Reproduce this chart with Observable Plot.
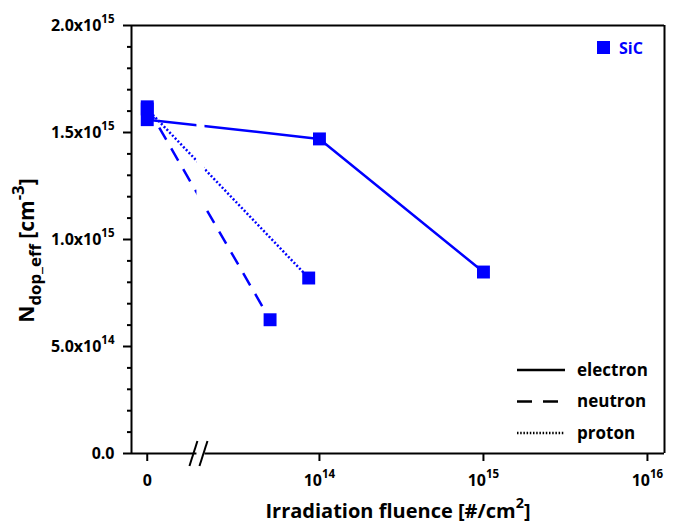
<!DOCTYPE html>
<html><head><meta charset="utf-8">
<script src="https://cdn.jsdelivr.net/npm/d3@7"></script>
<script src="https://cdn.jsdelivr.net/npm/@observablehq/plot@0.6"></script>
<style>
body{margin:0;background:#fff;}
#chart svg{font-family:"Open Sans",sans-serif;font-weight:700;}
</style></head><body><div id="chart"></div>
<script>
// ---- data ----
const electronFluence = [0, 1e14, 1e15];
const electronNdop = [1.56e15, 1.47e15, 0.848e15];
const neutronFluence = [0, 5e13];
const neutronNdop = [1.62e15, 0.625e15];
const protonFluence = [0, 8.6e13];
const protonNdop = [1.61e15, 0.82e15];
const seriesNames = ["electron", "neutron", "proton"];
const materialName = "SiC";
const yMajorTicks = [0, 5e14, 1e15, 1.5e15, 2e15];
const yTickLabels = ["0.0", "5.0x10^{14}", "1.0x10^{15}", "1.5x10^{15}", "2.0x10^{15}"];
const xTickExponents = [14, 15, 16];
const xLabel = "Irradiation fluence [#/cm^{2}]";
const yLabel = "N_{dop_eff} [cm^{-3}]";

// ---- broken log axis layout ----
const ZERO_POS = 12.95, X_MIN = 12.854, X_MAX = 16.104;
const BREAK_L = 13.253, BREAK_R = 13.302;
const pos = f => f === 0 ? ZERO_POS : Math.log10(f);
const BLUE = "#0000ff";
const TICK_FS = 16;

const mk = (name, fl, nd) => fl.map((f, i) => ({series: name, fluence: f, pos: pos(f), ndop: nd[i]}));
const rows = [
  ...mk("electron", electronFluence, electronNdop),
  ...mk("neutron", neutronFluence, neutronNdop),
  ...mk("proton", protonFluence, protonNdop)
];
const dashes = {electron: null, neutron: "14,10", proton: "2,2"};
const xTicks = [ZERO_POS, ...xTickExponents];
const xTickFormat = v => v === ZERO_POS ? "0" : `10^{${v}}`;
const yMinor = d3.range(1e14, 2e15, 1e14).filter(v => !yMajorTicks.some(m => Math.abs(m - v) < 1e10));

const plot = Plot.plot({
  width: 673, height: 523,
  marginLeft: 131, marginRight: 9, marginTop: 25, marginBottom: 70,
  style: {fontFamily: "'Open Sans', sans-serif", fontWeight: 700, fontSize: "15px", color: "#000", background: "#fff"},
  x: {type: "linear", domain: [X_MIN, X_MAX]},
  y: {type: "linear", domain: [0, 2e15]},
  marks: [
    ...seriesNames.map(s => Plot.line(rows.filter(r => r.series === s), {
      x: "pos", y: "ndop", stroke: BLUE, strokeWidth: 2.5, strokeDasharray: dashes[s], strokeLinecap: "butt"
    })),
    Plot.rect([0], {x1: BREAK_L, x2: BREAK_R, y1: 0, y2: 1.97e15, fill: "white"}),
    Plot.dot(rows, {x: "pos", y: "ndop", symbol: "square", r: 7.3, fill: BLUE, stroke: null}),
    Plot.ruleX([X_MIN, X_MAX], {stroke: "#000", strokeWidth: 2}),
    Plot.ruleY([2e15], {stroke: "#000", strokeWidth: 2}),
    Plot.ruleY([0], {x1: X_MIN, x2: BREAK_L, stroke: "#000", strokeWidth: 2}),
    Plot.ruleY([0], {x1: BREAK_R, x2: X_MAX, stroke: "#000", strokeWidth: 2}),
    Plot.axisY(yMajorTicks, {tickSize: 8, strokeWidth: 2, text: null, tickFormat: () => "", label: null}),
    Plot.axisY(yMinor, {tickSize: 4, strokeWidth: 2, text: null, tickFormat: () => "", label: null}),
    Plot.axisX(xTicks, {tickSize: 8, strokeWidth: 2, text: null, tickFormat: () => "", label: null}),
    // tick labels
    Plot.text(yMajorTicks, {y: d => d, text: d => yTickLabels[yMajorTicks.indexOf(d)], frameAnchor: "left",
      dx: -17, textAnchor: "end", lineAnchor: "middle", fontSize: TICK_FS, fontWeight: 700}),
    Plot.text(xTicks, {x: d => d, text: xTickFormat, frameAnchor: "bottom",
      dy: 27, textAnchor: "middle", lineAnchor: "middle", fontSize: TICK_FS, fontWeight: 700}),
    // axis titles
    Plot.text([xLabel], {text: d => d, frameAnchor: "bottom", dy: 58, lineAnchor: "middle", textAnchor: "middle", fontSize: 20, fontWeight: 700}),
    Plot.text([yLabel], {text: d => d, frameAnchor: "left", dx: -104, dy: 11, rotate: -90, textAnchor: "middle", lineAnchor: "middle", fontSize: 21, fontWeight: 700})
  ]
});
document.getElementById("chart").append(plot);
const svg = d3.select(plot);

// ---- rich text (superscripts / subscripts) ----
function richText(el, scale) {
  const s = el.textContent;
  if (!/[\^_]\{/.test(s)) return;
  const fs = parseFloat(getComputedStyle(el).fontSize) || 15;
  const parts = s.split(/([\^_]\{[^}]*\})/).filter(p => p.length);
  while (el.firstChild) el.removeChild(el.firstChild);
  let cur = 0;
  for (const p of parts) {
    const t = document.createElementNS("http://www.w3.org/2000/svg", "tspan");
    let target = 0, txt = p, size = null;
    if (p.startsWith("^{")) { target = -0.5 * fs; txt = p.slice(2, -1); size = scale * fs; }
    else if (p.startsWith("_{")) { target = 0.3 * fs; txt = p.slice(2, -1); size = scale * fs; }
    if (target !== cur) t.setAttribute("dy", target - cur);
    cur = target;
    if (size) t.style.fontSize = size + "px";
    t.textContent = txt;
    el.appendChild(t);
  }
}
svg.selectAll("text").each(function() { richText(this, this.textContent === yLabel ? 0.8 : 0.72); });

// ---- axis break marks ----
const sx = plot.scale("x"), sy = plot.scale("y");
const bx = [sx.apply(BREAK_L) - 3, sx.apply(BREAK_R) - 1];
const by = sy.apply(0);
const g = svg.append("g").attr("stroke", "#000").attr("stroke-width", 2);
bx.forEach(x => g.append("line").attr("x1", x - 4).attr("y1", by + 13).attr("x2", x + 4).attr("y2", by - 12));

// ---- legends ----
const xr = sx.apply(X_MAX), yt = sy.apply(2e15);
const lg = svg.append("g").attr("text-anchor", "start");
lg.append("rect").attr("x", xr - 67).attr("y", yt + 16).attr("width", 13).attr("height", 13).attr("fill", BLUE);
lg.append("text").attr("x", xr - 45).attr("y", yt + 23).attr("dy", "0.35em").attr("fill", BLUE)
  .attr("font-size", 16).attr("font-weight", 700).text(materialName);
const yb = sy.apply(0);
seriesNames.forEach((s, i) => {
  const y = yb - 83 + i * 31.5;
  lg.append("line").attr("x1", xr - 147).attr("x2", xr - 99).attr("y1", y).attr("y2", y)
    .attr("stroke", "#000").attr("stroke-width", 2.5).attr("stroke-dasharray", s === "neutron" ? "15,11" : s === "proton" ? "1.5,1.7" : null);
  lg.append("text").attr("x", xr - 87).attr("y", y).attr("dy", "0.35em").attr("font-size", 17)
    .attr("font-weight", 700).attr("fill", "#000").text(s);
});
</script></body></html>
